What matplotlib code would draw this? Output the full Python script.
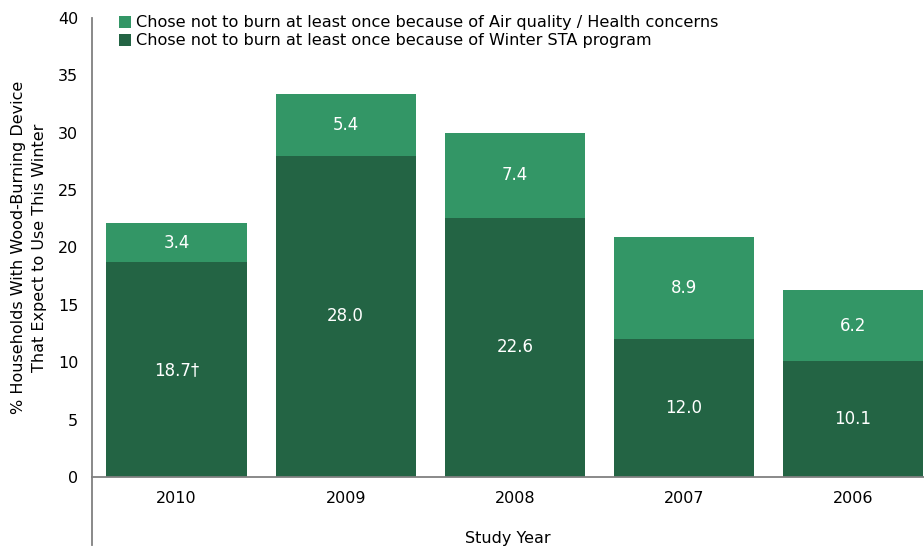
import matplotlib.pyplot as plt
from matplotlib.lines import Line2D

# ---- data ----
anos = ['2010', '2009', '2008', '2007', '2006']
sta_program = [18.7, 28.0, 22.6, 12.0, 10.1]
saude = [3.4, 5.4, 7.4, 8.9, 6.2]
rotulos_sta = ['18.7†', '28.0', '22.6', '12.0', '10.1']
rotulos_saude = ['3.4', '5.4', '7.4', '8.9', '6.2']

cor_escura = '#236444'
cor_clara = '#339666'
cinza = '#808080'

plt.rcParams['font.family'] = ['DejaVu Sans']

fig = plt.figure(figsize=(9.24, 5.46), dpi=100)
ax = fig.add_axes([0.0996, 0.1264, 0.9004, 0.8407])

x = range(len(anos))
b1 = ax.bar(x, sta_program, width=0.83, color=cor_escura,
            label='Chose not to burn at least once because of Winter STA program')
b2 = ax.bar(x, saude, width=0.83, bottom=sta_program, color=cor_clara,
            label='Chose not to burn at least once because of Air quality / Health concerns')

for i in x:
    ax.text(i, sta_program[i] / 2, rotulos_sta[i], ha='center', va='center',
            color='white', fontsize=12)
    ax.text(i, sta_program[i] + saude[i] / 2, rotulos_saude[i], ha='center', va='center',
            color='white', fontsize=12)

ax.set_xlim(-0.5, 4.42)
ax.set_ylim(0, 40)
ax.set_yticks(range(0, 41, 5))
ax.set_xticks(list(x))
ax.set_xticklabels(anos)
ax.tick_params(axis='both', length=0, labelsize=11.5)
ax.tick_params(axis='x', pad=10)
ax.tick_params(axis='y', pad=10)

for s in ['top', 'right']:
    ax.spines[s].set_visible(False)
ax.spines['left'].set_color(cinza)
ax.spines['bottom'].set_color(cinza)
ax.spines['left'].set_linewidth(1.3)
ax.spines['bottom'].set_linewidth(1.3)

# left axis line goes on below zero
ax.add_artist(Line2D([0, 0], [0, -0.148], transform=ax.transAxes, color=cinza,
                     linewidth=1.3, clip_on=False))

ax.set_xlabel('Study Year', fontsize=11.5, labelpad=18)
ax.set_ylabel('% Households With Wood-Burning Device\nThat Expect to Use This Winter',
              fontsize=11.5, labelpad=8, linespacing=1.45)

leg = ax.legend(handles=[b2, b1], loc='upper left', bbox_to_anchor=(0.025, 1.02),
                frameon=False, fontsize=11.6, handlelength=0.75, handleheight=0.75,
                handletextpad=0.3, labelspacing=0.2, borderaxespad=0)

fig.savefig('out.png', dpi=100)
